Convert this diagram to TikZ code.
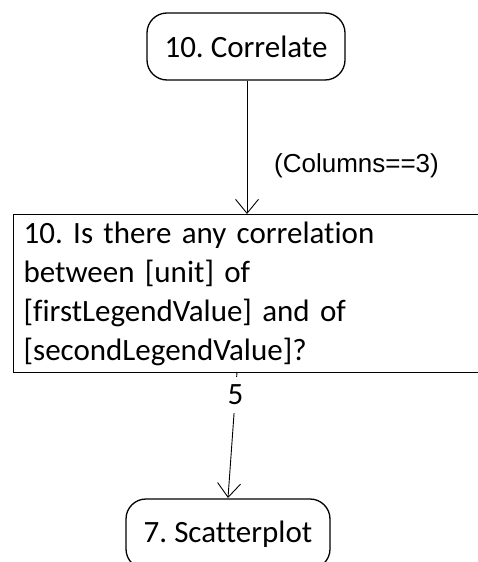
\documentclass[tikz,border=0pt]{standalone}
\usepackage{fontspec}
\setmainfont{Carlito}[Ligatures=NoCommon]
\newfontfamily\arialfont{Liberation Sans}
\usetikzlibrary{arrows.meta}
\frenchspacing
\begin{document}
\begin{tikzpicture}[x=1pt,y=-1pt,
  every node/.style={font=\fontsize{31}{39}\selectfont},
  statebox/.style={draw,line width=1.3pt,rounded corners=20pt,minimum width=198pt,minimum height=67pt,inner sep=0pt},
  questionbox/.style={draw,line width=1.3pt,minimum width=490pt,minimum height=158pt,text width=470pt,align=left,inner xsep=7pt,inner ysep=0pt,anchor=north west},
  flow/.style={line width=0.9pt,-{Straight Barb[length=14pt,width=23pt,line width=0.9pt]}},
  edgelabel/.style={font=\arialfont\fontsize{26}{30}\selectfont,inner sep=0pt},
  numlabel/.style={fill=white,inner xsep=2pt,inner ysep=8pt}
]
\useasboundingbox (0,0) rectangle (478,562);
\node[statebox] (correlate) at (246,46.5) {10. Correlate};
\node[questionbox] (question) at (13,214) {\frenchspacing 10. Is there any correlation\\between [unit] of\\{}[firstLegendValue] and of\\{}[secondLegendValue]?};
\node[statebox,minimum width=204pt,minimum height=70pt] (scatter) at (228,534) {7. Scatterplot};
\coordinate (qout) at (237,372);
\coordinate (qin) at (247,214);
\coordinate (sin) at (228,498);
\draw[flow] (correlate.south -| qin) -- (qin);
\node[edgelabel,anchor=base] (cond) at (356.5,172) {(Columns==3)};
\draw[flow] (qout) -- node[numlabel,pos=0.18] (five) {5} (sin);
\end{tikzpicture}
\end{document}
